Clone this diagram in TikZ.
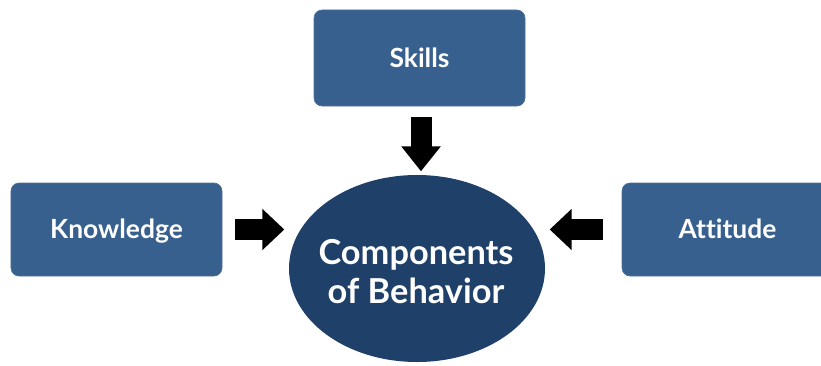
\documentclass[tikz,border=0pt]{standalone}
\usepackage{fontspec}
\setmainfont{Lato}[Ligatures=NoCommon]
\usetikzlibrary{arrows.meta,shapes.geometric}
\definecolor{boxblue}{HTML}{37608F}
\definecolor{boxedge}{HTML}{4F7099}
\definecolor{ovalblue}{HTML}{1F4068}
\tikzset{
  factorbox/.style={rectangle, rounded corners=8bp, fill=boxblue, draw=boxedge, line width=0.6bp,
    text=white, font=\fontsize{26.5}{30}\selectfont\bfseries, inner sep=0pt,
    text height=20bp, text depth=2bp},
  centeroval/.style={ellipse, fill=ovalblue, draw=none, inner sep=0pt},
  ovaltext/.style={text=white, align=center, inner sep=0pt, font=\fontsize{34.5}{39}\selectfont\bfseries},
  blockarrow/.style={line width=21bp, draw=black, -{Triangle[width=40bp,length=22bp]}}
}
\begin{document}
\begin{tikzpicture}[x=1bp,y=1bp]
\useasboundingbox (0,0) rectangle (821,365);
\node[factorbox, minimum width=211bp, minimum height=96bp] (skills) at (419.5,307) {Skills};
\node[factorbox, minimum width=211bp, minimum height=93bp] (knowledge) at (116.5,135.5) {Knowledge};
\node[factorbox, minimum width=211bp, minimum height=93bp] (attitude) at (727.5,135.5) {Attitude};
\node[centeroval, minimum width=256bp, minimum height=187bp] (behavior) at (417,96.5) {};
\node[ovaltext] (behaviortext) at (416,93.5) {Components\\of Behavior};
\draw[blockarrow] ([xshift=13bp]knowledge.east) -- ++(49,0);
\draw[blockarrow] ([xshift=-19bp]attitude.west) -- ++(-53,0);
\draw[blockarrow, -{Triangle[width=38bp,length=25bp]}] ([xshift=1.5bp,yshift=-11bp]skills.south) -- ++(0,-54);
\end{tikzpicture}
\end{document}
